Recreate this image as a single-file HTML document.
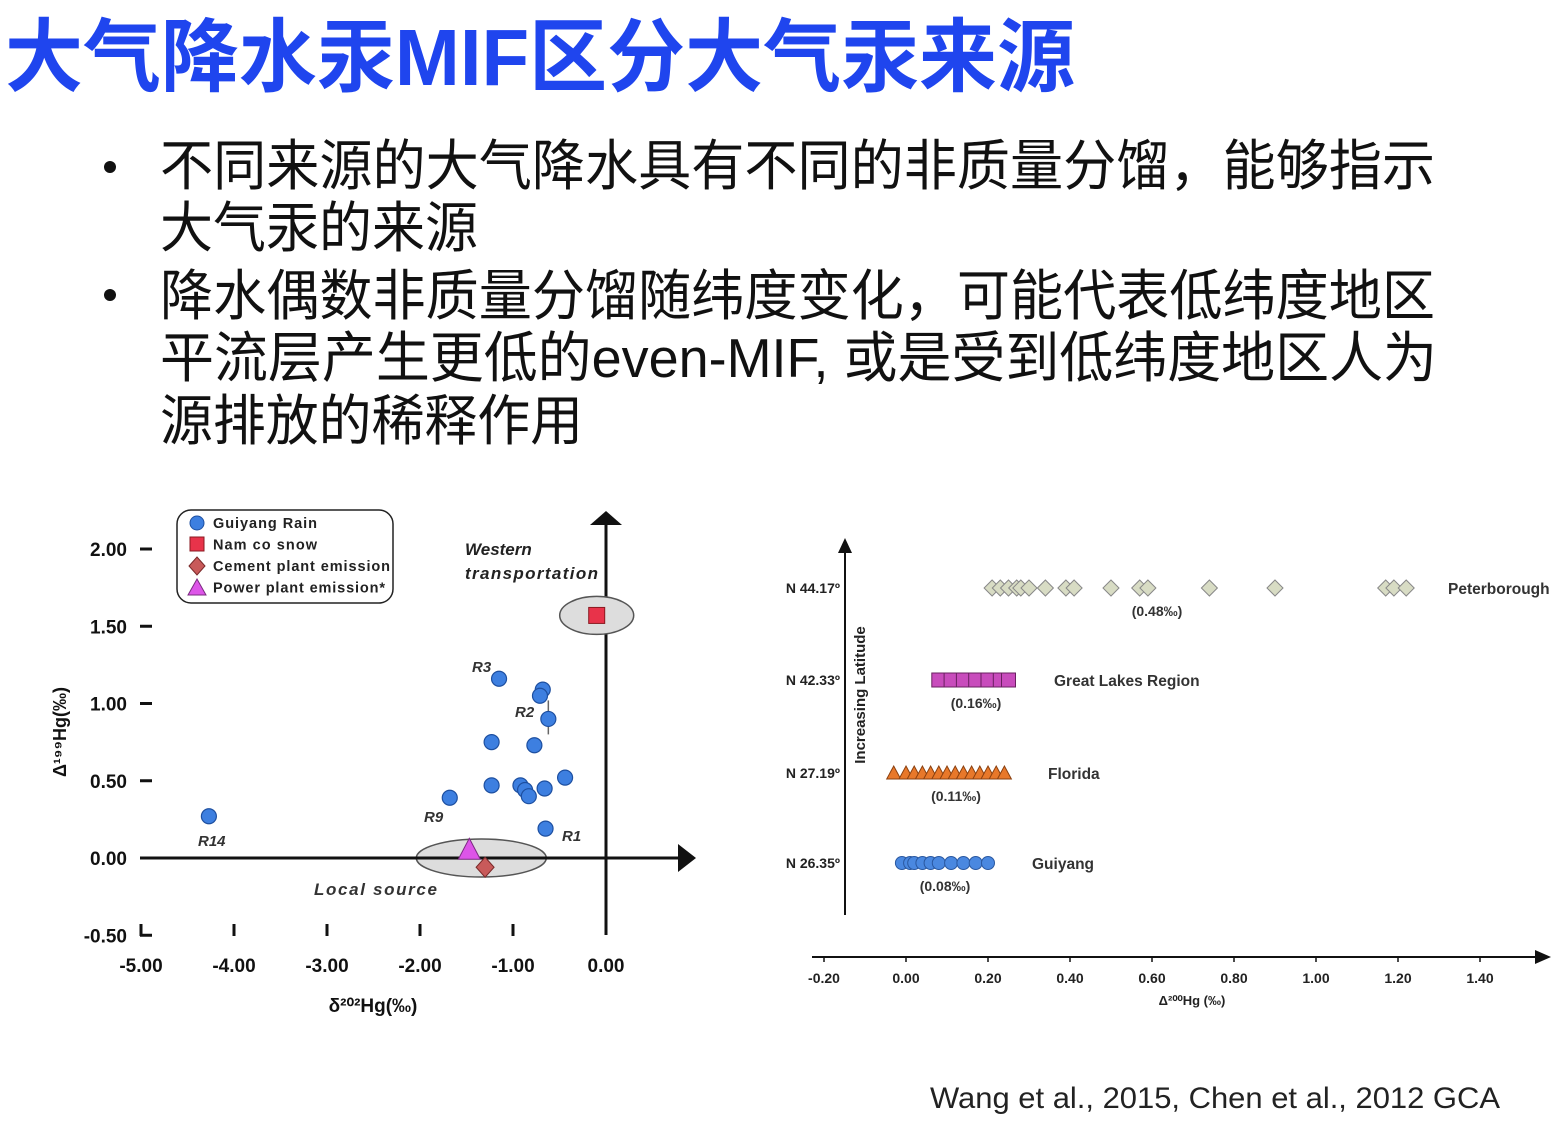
<!DOCTYPE html>
<html><head><meta charset="utf-8"><style>
html,body{margin:0;padding:0;background:#fff;}
svg{display:block;font-family:"Liberation Sans","Noto Sans CJK SC",sans-serif;}
</style></head><body>
<svg id="page" width="1564" height="1126" viewBox="0 0 1564 1126">
<text x="5" y="85" font-size="80" font-weight="bold" fill="#1f45ee" textLength="1070" lengthAdjust="spacingAndGlyphs">大气降水汞MIF区分大气汞来源</text>
<g font-size="55" fill="#111">
<circle cx="110" cy="167" r="6" fill="#111"/>
<circle cx="110" cy="295" r="6" fill="#111"/>
<text x="160" y="185" textLength="1275" lengthAdjust="spacingAndGlyphs">不同来源的大气降水具有不同的非质量分馏，能够指示</text>
<text x="160" y="247" textLength="318" lengthAdjust="spacingAndGlyphs">大气汞的来源</text>
<text x="160" y="315" textLength="1275" lengthAdjust="spacingAndGlyphs">降水偶数非质量分馏随纬度变化，可能代表低纬度地区</text>
<text x="160" y="377" textLength="1277" lengthAdjust="spacingAndGlyphs">平流层产生更低的even-MIF, 或是受到低纬度地区人为</text>
<text x="160" y="440" textLength="423" lengthAdjust="spacingAndGlyphs">源排放的稀释作用</text>
</g>
<g id="left"></g>
<g id="right"></g>
<text x="930" y="1108" font-size="30" fill="#222" textLength="570" lengthAdjust="spacingAndGlyphs">Wang et al., 2015, Chen et al., 2012 GCA</text>
</svg>
<script>
// Left chart data
const rainX = [-4.27,-1.68,-1.15,-0.68,-0.71,-0.62,-1.23,-0.77,-1.23,-0.92,-0.87,-0.83,-0.66,-0.44,-0.65];
const rainY = [0.27,0.39,1.16,1.09,1.05,0.90,0.75,0.73,0.47,0.47,0.44,0.40,0.45,0.52,0.19];
const namcoX = [-0.10]; const namcoY = [1.57];
const cementX = [-1.30]; const cementY = [-0.06];
const powerX = [-1.47]; const powerY = [0.05];
const xTicks = [-5,-4,-3,-2,-1,0];
const xTickLabels = ["-5.00","-4.00","-3.00","-2.00","-1.00","0.00"];
const yTicks = [2,1.5,1,0.5,0,-0.5];
const yTickLabels = ["2.00","1.50","1.00","0.50","0.00","-0.50"];
// Right chart data
const rowLabels = ["N 44.17º","N 42.33º","N 27.19º","N 26.35º"];
const rowNames = ["Peterborough","Great Lakes Region","Florida","Guiyang"];
const rowMeans = ["(0.48‰)","(0.16‰)","(0.11‰)","(0.08‰)"];
const peterVals = [0.21,0.23,0.25,0.27,0.28,0.30,0.34,0.39,0.41,0.50,0.57,0.59,0.74,0.90,1.17,1.19,1.22];
const greatVals = [0.08,0.11,0.14,0.17,0.20,0.23,0.25];
const floridaVals = [-0.03,0.00,0.02,0.04,0.06,0.08,0.10,0.12,0.14,0.16,0.18,0.20,0.22,0.24];
const guiyangVals = [-0.01,0.01,0.02,0.04,0.06,0.08,0.11,0.14,0.17,0.20];
const rTicks = [-0.2,0,0.2,0.4,0.6,0.8,1.0,1.2,1.4];
const rTickLabels = ["-0.20","0.00","0.20","0.40","0.60","0.80","1.00","1.20","1.40"];

const NS="http://www.w3.org/2000/svg";
function mk(parent,tag,attrs,txt){const e=document.createElementNS(NS,tag);for(const k in attrs)e.setAttribute(k,attrs[k]);if(txt!==undefined)e.textContent=txt;parent.appendChild(e);return e;}
const L=document.getElementById('left'), R=document.getElementById('right');
const lx=v=>606+v*93, ly=v=>858-v*154.5;
const rx=v=>906+v*410;

let e;
e=mk(L,'line',{x1:141,y1:858,x2:680,y2:858,stroke:'#111','stroke-width':3});

e=mk(L,'polygon',{points:'678,844 696,858 678,872',fill:'#111'});

e=mk(L,'line',{x1:606,y1:935,x2:606,y2:522,stroke:'#111','stroke-width':3});

e=mk(L,'polygon',{points:'590,525 606,511 622,525',fill:'#111'});

e=mk(L,'ellipse',{cx:lx(-0.1),cy:ly(1.57),rx:37,ry:19,fill:'#ddd',stroke:'#555','stroke-width':1.5});

e=mk(L,'ellipse',{cx:lx(-1.47)+12,cy:ly(0),rx:65,ry:19,fill:'#ddd',stroke:'#555','stroke-width':1.5});

e=mk(L,'line',{x1:141,y1:858,x2:680,y2:858,stroke:'#111','stroke-width':3});

yTicks.forEach((v,i)=>{
  const t=mk(L,'text',{x:127,y:ly(v)+7,'font-size':19,'font-weight':'bold','text-anchor':'end',fill:'#111'},yTickLabels[i]);
  
  const m=mk(L,'line',{x1:140,y1:ly(v),x2:152,y2:ly(v),stroke:'#111','stroke-width':3});
  
});
xTicks.forEach((v,i)=>{
  const t=mk(L,'text',{x:lx(v),y:972,'font-size':19,'font-weight':'bold','text-anchor':'middle',fill:'#111'},xTickLabels[i]);
  
  if(v<0){const m=mk(L,'line',{x1:lx(v),y1:924,x2:lx(v),y2:936,stroke:'#111','stroke-width':3});
  }
});
e=mk(L,'text',{x:373,y:1012,'font-size':19,'font-weight':'bold','text-anchor':'middle',fill:'#111'},'δ²⁰²Hg(‰)');

e=mk(L,'text',{x:0,y:0,'font-size':18,'font-weight':'bold','text-anchor':'middle',fill:'#111',transform:'translate(66,732) rotate(-90)'},'Δ¹⁹⁹Hg(‰)');

e=mk(L,'line',{x1:lx(-0.62),y1:ly(1.02),x2:lx(-0.62),y2:ly(0.80),stroke:'#666','stroke-width':1.5});

rainX.forEach((v,i)=>{
  const c=mk(L,'circle',{cx:lx(v),cy:ly(rainY[i]),r:7.5,fill:'#3d7fe0',stroke:'#1d4fa0','stroke-width':1.2});
  
});
namcoX.forEach((v,i)=>{
  const c=mk(L,'rect',{x:lx(v)-8,y:ly(namcoY[i])-8,width:16,height:16,fill:'#e8334a',stroke:'#8a1a20','stroke-width':1});
  
});
powerX.forEach((v,i)=>{
  const x=lx(v),y=ly(powerY[i]);
  const c=mk(L,'polygon',{points:`${x},${y-12} ${x+11},${y+9} ${x-11},${y+9}`,fill:'#dd55e8',stroke:'#7a2a80','stroke-width':1});
  
});
cementX.forEach((v,i)=>{
  const x=lx(v),y=ly(cementY[i]);
  const c=mk(L,'polygon',{points:`${x},${y-10} ${x+9},${y} ${x},${y+10} ${x-9},${y}`,fill:'#c85a5a',stroke:'#7a2a2a','stroke-width':1});
  
});
[['R14',198,846],['R9',424,822],['R3',472,672],['R2',515,717],['R1',562,841]].forEach(a=>{
  const t=mk(L,'text',{x:a[1],y:a[2],'font-size':15,'font-weight':'bold','font-style':'italic',fill:'#333'},a[0]);
  
});
e=mk(L,'text',{x:465,y:555,'font-size':17,'font-weight':'bold','font-style':'italic',fill:'#222'},'Western');

e=mk(L,'text',{x:465,y:579,'font-size':17,'font-weight':'bold','font-style':'italic',fill:'#222',textLength:133},'transportation');

e=mk(L,'text',{x:314,y:895,'font-size':17,'font-weight':'bold','font-style':'italic',fill:'#333',textLength:123},'Local source');

const lg=mk(L,'g',{});

mk(lg,'rect',{x:177,y:510,width:216,height:93,rx:14,fill:'#fff',stroke:'#222','stroke-width':1.5});
const legTxt=['Guiyang Rain','Nam co snow','Cement plant emission','Power plant emission*'];
const legW=[104,104,177,172];
legTxt.forEach((s,i)=>{
  const y=523+i*21.5;
  const t=mk(lg,'text',{x:213,y:y+5,'font-size':14.5,'font-weight':'bold',fill:'#222',textLength:legW[i]},s);
  
});
mk(lg,'circle',{cx:197,cy:523,r:7,fill:'#3d7fe0',stroke:'#1d4fa0'});
mk(lg,'rect',{x:190,y:537,width:14,height:14,fill:'#e8334a',stroke:'#8a1a20'});
mk(lg,'polygon',{points:'197,557 205,566 197,575 189,566',fill:'#c85a5a',stroke:'#7a2a2a'});
mk(lg,'polygon',{points:'197,579 206,595 188,595',fill:'#dd55e8',stroke:'#7a2a80'});

e=mk(R,'line',{x1:845,y1:915,x2:845,y2:552,stroke:'#111','stroke-width':2});

e=mk(R,'polygon',{points:'838,553 845,538 852,553',fill:'#111'});

e=mk(R,'line',{x1:812,y1:957,x2:1538,y2:957,stroke:'#111','stroke-width':2});

e=mk(R,'polygon',{points:'1535,950 1551,957 1535,964',fill:'#111'});

rTicks.forEach((v,i)=>{
  const m=mk(R,'line',{x1:rx(v),y1:957,x2:rx(v),y2:962,stroke:'#111','stroke-width':1.5});
  
  const t=mk(R,'text',{x:rx(v),y:983,'font-size':14,'font-weight':'bold','text-anchor':'middle',fill:'#222'},rTickLabels[i]);
  
});
e=mk(R,'text',{x:1192,y:1005,'font-size':13,'font-weight':'bold','text-anchor':'middle',fill:'#222'},'Δ²⁰⁰Hg (‰)');

e=mk(R,'text',{x:0,y:0,'font-size':15,'font-weight':'bold','text-anchor':'middle',fill:'#222',transform:'translate(865,695) rotate(-90)'},'Increasing Latitude');

const rowY=[588,680,773,863];
const nameX=[1448,1054,1048,1032];
const meanX=[1157,976,956,945];
rowLabels.forEach((s,i)=>{
  const t=mk(R,'text',{x:840,y:rowY[i]+5,'font-size':14,'font-weight':'bold','text-anchor':'end',fill:'#222'},s);
  
  const n=mk(R,'text',{x:nameX[i],y:rowY[i]+6,'font-size':15.5,'font-weight':'bold',fill:'#333'},rowNames[i]);
  
  const m=mk(R,'text',{x:meanX[i],y:rowY[i]+28,'font-size':14,'font-weight':'bold','text-anchor':'middle',fill:'#333'},rowMeans[i]);
  
});
peterVals.forEach(v=>{
  const x=rx(v),y=rowY[0];
  const p=mk(R,'polygon',{points:`${x},${y-8} ${x+8},${y} ${x},${y+8} ${x-8},${y}`,fill:'#d8dcc4',stroke:'#888','stroke-width':1});
  
});
greatVals.forEach(v=>{
  const x=rx(v),y=rowY[1];
  const p=mk(R,'rect',{x:x-7,y:y-7,width:14,height:14,fill:'#c84cbc',stroke:'#6a2060','stroke-width':1});
  
});
floridaVals.forEach(v=>{
  const x=rx(v),y=rowY[2];
  const p=mk(R,'polygon',{points:`${x},${y-7} ${x+7},${y+6} ${x-7},${y+6}`,fill:'#e8782a',stroke:'#8a4010','stroke-width':1});
  
});
guiyangVals.forEach(v=>{
  const x=rx(v),y=rowY[3];
  const p=mk(R,'circle',{cx:x,cy:y,r:6.5,fill:'#4a88e0',stroke:'#2a58a0','stroke-width':1});
  
});
</script>
</body></html>
